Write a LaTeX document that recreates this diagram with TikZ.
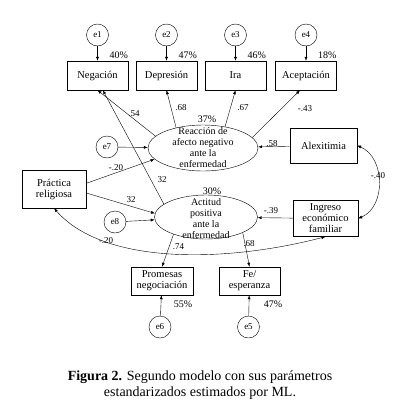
\documentclass[tikz,border=0pt]{standalone}
\usepackage{fontspec}
\setmainfont{Liberation Serif}
\usepackage{tikz}
\usetikzlibrary{arrows.meta,shapes.geometric,calc}

\begin{document}
\begin{tikzpicture}[x=1pt,y=-1pt,
    err/.style={circle,draw,minimum size=22pt,inner sep=0pt,font=\fontsize{9}{9}\selectfont},
    obs/.style={rectangle,draw,inner sep=1pt,align=center,font=\fontsize{10.5}{11}\selectfont},
    lat/.style={ellipse,draw,inner sep=0pt},
    lattxt/.style={align=center,inner sep=0pt,font=\fontsize{10}{11}\selectfont},
    reg/.style={-{Latex[length=4pt,width=3pt]}},
    cov/.style={{Latex[length=4pt,width=3pt]}-{Latex[length=4pt,width=3pt]}},
    coef/.style={inner sep=0pt,font=\fontsize{9}{9}\selectfont},
    pct/.style={inner sep=0pt,font=\fontsize{10}{10}\selectfont}]
    \useasboundingbox (0,0) rectangle (408,408);

    % indicators of the negative reaction
    \foreach \i/\x/\t/\p in {1/97.5/Negación/40,2/166.5/Depresión/47,3/235.5/Ira/46,4/306/Aceptación/18} {
        \node[err] (e\i) at (\x,35) {e\i};
        \node[obs,minimum width=61pt,minimum height=29pt] (y\i) at (\x,75.5) {\t};
        \node[pct,anchor=south east] (p\i) at ($(y\i.north east)+(0,-2)$) {\p\%};
        \draw[reg] (e\i) -- (y\i);
    }

    % latent variables
    \node[lat,minimum width=110pt,minimum height=46pt] (rea) at (203,148) {};
    \node[lattxt] (reaT) at (rea.center) {Reacción de\\afecto negativo\\ante la\\enfermedad};
    \node[lat,minimum width=103pt,minimum height=44pt] (act) at (206,217) {};
    \node[lattxt] (actT) at ($(act.center)+(0,2)$) {Actitud\\positiva\\ante la\\enfermedad};
    \node[pct] (r2a) at (207,119.5) {37\%};
    \node[pct] (r2b) at (212,191) {30\%};

    % predictors
    \node[obs,minimum width=64pt,minimum height=38pt] (prc) at (54,189) {Práctica\\religiosa};
    \node[obs,minimum width=67pt,minimum height=35pt] (alx) at (323.5,145.5) {Alexitimia};
    \node[obs,minimum width=65pt,minimum height=36pt] (ing) at (325.5,218.5) {Ingreso\\económico\\familiar};
    \node[err] (e7) at (107,147) {e7};
    \node[err] (e8) at (115,222) {e8};

    % indicators of the positive attitude
    \node[obs,minimum width=62pt,minimum height=28pt] (pro) at (162,281) {Promesas\\negociación};
    \node[obs,minimum width=61pt,minimum height=28pt] (fe) at (249.5,281) {Fe/\\esperanza};
    \node[err] (e6) at (160,327) {e6};
    \node[err] (e5) at (248.5,327) {e5};
    \node[pct] (p6) at (183,304) {55\%};
    \node[pct] (p5) at (273,304) {47\%};

    % paths
    \draw[reg] (rea.166) -- (y1.south);
    \draw[reg] (act.163) -- (y1.290);
    \draw[reg] (rea.143) -- (y2.south);
    \draw[reg] (rea.44) -- (y3.south);
    \draw[reg] (rea.12) -- (y4.248);
    \draw[reg] (alx) -- (rea);
    \draw[reg] (e7) -- (rea);
    \draw[reg] (prc.10) -- (rea.193);
    \draw[reg] (prc.-7) -- (act.176);
    \draw[reg] (e8) -- (act);
    \draw[reg] (ing) -- (act);
    \draw[reg] (act.208) -- (pro.north);
    \draw[reg] (act.337) -- (fe.north);
    \draw[reg] (e6) -- (pro);
    \draw[reg] (e5) -- (fe);

    % covariances
    \draw[cov] (alx.east) .. controls +(28,12) and +(28,-12) .. (ing.east);
    \draw[cov] (prc.south) .. controls +(50,57) and +(-100,26) .. (ing.south);

    % coefficients
    \node[coef] (c1) at (134,113.5) {.54};
    \node[coef] (c2) at (181,107.5) {.68};
    \node[coef] (c3) at (243,107.5) {.67};
    \node[coef] (c4) at (305,108.5) {-.43};
    \node[coef] (c5) at (272,143.5) {.58};
    \node[coef] (c6) at (116,168) {-.20};
    \node[coef] (c7) at (162,180) {32};
    \node[coef] (c8) at (131,200) {32};
    \node[coef] (c9) at (271,211) {-.39};
    \node[coef] (c10) at (378,176) {-.40};
    \node[coef] (c11) at (106,241) {-.20};
    \node[coef] (c12) at (178.5,246.5) {.74};
    \node[coef] (c13) at (249,243.5) {.68};

    % caption
    \node[align=center,font=\fontsize{14}{16}\selectfont] (cap) at (200,385)
        {\textbf{Figura 2.} Segundo modelo con sus parámetros\\estandarizados estimados por ML.};
\end{tikzpicture}
\end{document}
